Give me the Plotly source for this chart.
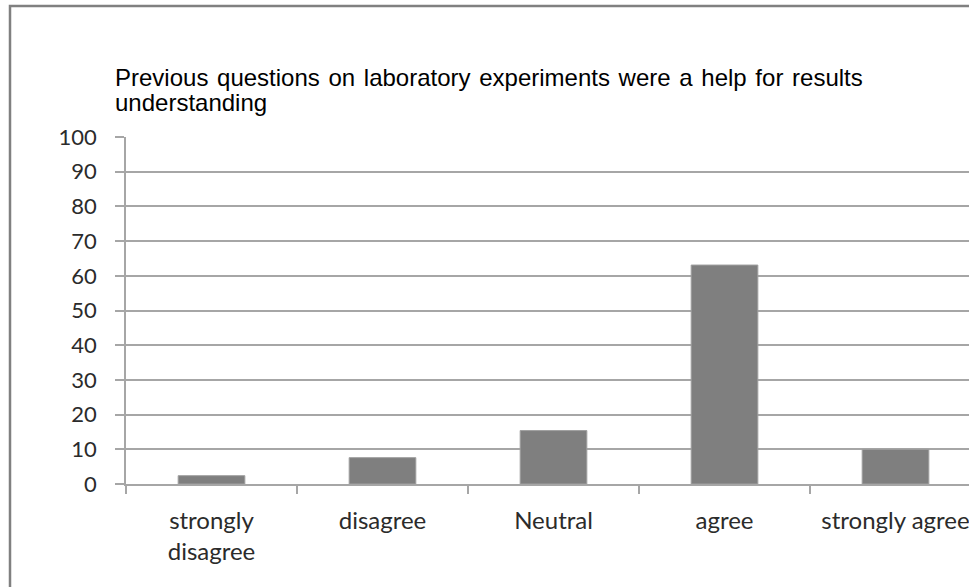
import plotly.graph_objects as go

# Survey responses (% of students)
categories = ["strongly<br>disagree", "disagree", "Neutral", "agree", "strongly agree"]
percentages = [2.4, 7.6, 15.4, 63.1, 10.0]
y_ticks = [0, 10, 20, 30, 40, 50, 60, 70, 80, 90, 100]

title_lines = [
    "Previous questions on laboratory experiments were a help for results",
    "understanding",
]

W, H = 969, 587
ML, MR, MT, MB = 126, 0, 137, 103
plot_w = W - ML - MR
plot_h = H - MT - MB


def px_to_paper_x(px):
    return (px - ML) / plot_w


def px_to_paper_y(py):
    return (H - MB - py) / plot_h


grid_col = "#a6a6a6"
label_col = "#2b2b2b"

fig = go.Figure(
    go.Bar(
        x=categories,
        y=percentages,
        marker=dict(color="#7f7f7f", line=dict(color="#a0a0a0", width=1)),
        width=0.39,
        hoverinfo="x+y",
    )
)

# each category slot is ~171 px wide; the visible range stops a little short of 4.5
slot_px = 171.0
x_hi = -0.5 + plot_w / slot_px

# title: first line slightly justified (hair space added to each word gap)
justified_first = " \u200a".join(title_lines[0].split(" "))
title_rows = [justified_first, title_lines[1]]
title_centers_px = [77, 102]
annotations = [
    dict(
        text=line,
        xref="paper",
        yref="paper",
        x=px_to_paper_x(113),
        y=px_to_paper_y(cy),
        xanchor="left",
        yanchor="middle",
        showarrow=False,
        align="left",
        font=dict(family="Liberation Sans, Arial, sans-serif", size=24, color="#000000"),
    )
    for line, cy in zip(title_rows, title_centers_px)
]

fig.update_layout(
    width=W,
    height=H,
    margin=dict(l=ML, r=MR, t=MT, b=MB, pad=0),
    paper_bgcolor="white",
    plot_bgcolor="white",
    showlegend=False,
    annotations=annotations,
    xaxis=dict(
        type="category",
        range=[-0.5, x_hi],
        showgrid=False,
        showline=True,
        linecolor=grid_col,
        linewidth=1.5,
        ticks="outside",
        tickson="boundaries",
        ticklen=8,
        tickcolor=grid_col,
        tickwidth=1.5,
        ticklabelstandoff=14,
        tickfont=dict(family="Lato, sans-serif", size=24, color=label_col),
        fixedrange=True,
    ),
    yaxis=dict(
        range=[0, 100],
        tickvals=y_ticks,
        ticktext=[str(v) for v in y_ticks],
        showgrid=True,
        gridcolor=grid_col,
        gridwidth=1.5,
        zeroline=False,
        showline=True,
        linecolor=grid_col,
        linewidth=1.5,
        ticks="outside",
        ticklen=9,
        tickcolor=grid_col,
        tickwidth=1.5,
        ticklabelstandoff=14,
        tickfont=dict(family="Lato, sans-serif", size=22, color=label_col),
        fixedrange=True,
    ),
    shapes=[
        dict(
            type="rect",
            xref="paper",
            yref="paper",
            x0=px_to_paper_x(10),
            y0=px_to_paper_y(H + 20),
            x1=px_to_paper_x(W + 20),
            y1=px_to_paper_y(6),
            line=dict(color="#808080", width=2.5),
            fillcolor="rgba(0,0,0,0)",
            layer="above",
        )
    ],
)

fig.write_html("out.html")
